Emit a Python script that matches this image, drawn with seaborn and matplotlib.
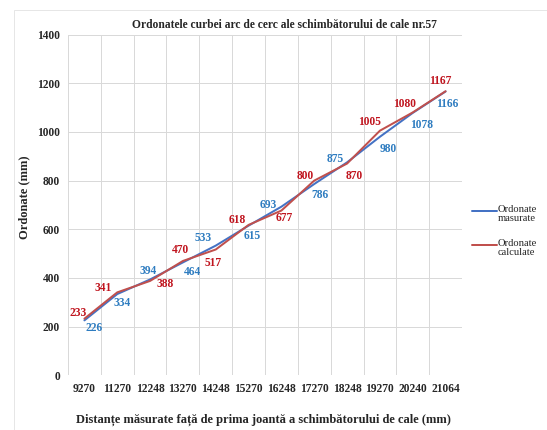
import numpy as np
import pandas as pd
import matplotlib
matplotlib.use("Agg")
import matplotlib.pyplot as plt
from matplotlib.lines import Line2D
from matplotlib.patches import Rectangle
import seaborn as sns

# data
distante = ["9270", "11270", "12248", "13270", "14248", "15270",
            "16248", "17270", "18248", "19270", "20240", "21064"]
ord_masurate = [226, 334, 394, 464, 533, 615, 693, 786, 875, 980, 1078, 1166]
ord_calculate = [233, 341, 388, 470, 517, 618, 677, 800, 870, 1005, 1080, 1167]
serii = ["Ordonate\nmasurate", "Ordonate\ncalculate"]
y_ticks = [0, 200, 400, 600, 800, 1000, 1200, 1400]

# label offsets in pixels (dx, dy with y pointing down)
off_m = [(10, 8), (5, 9), (-2, -8), (10, 10), (-13, -8), (4, 10),
         (-13, -2), (6, 11), (-12, -3), (8, 12), (9, 12), (2, 13)]
off_c = [(-6, -6), (-14, -4), (15, 3), (-2, -11), (-3, 13), (-11, -5),
         (3, 7), (-9, -5), (7, 12), (-10, -9), (-8, -8), (-5, -10)]

blue = "#4472C4"
red = "#C0504D"
blue_txt = "#2E7CC0"
red_txt = "#C0141E"
grid_c = "#D9D9D9"

sns.set_style("white")
plt.rcParams["font.family"] = ["Liberation Serif", "DejaVu Serif"]

df = pd.DataFrame({
    "dist": distante * 2,
    "ord": ord_masurate + ord_calculate,
    "serie": [serii[0]] * len(distante) + [serii[1]] * len(distante),
})

fig = plt.figure(figsize=(547 / 72, 430 / 72), dpi=72)
ax = fig.add_axes([68 / 547, 1 - 375.4 / 430, (462 - 68) / 547, (375.4 - 34.5) / 430])

sns.lineplot(data=df, x="dist", y="ord", hue="serie", palette=[blue, red],
             linewidth=2, sort=False, ax=ax, legend=False)

for i, v in enumerate(ord_masurate):
    ax.annotate(str(v), (i, v), xytext=(off_m[i][0], -off_m[i][1]),
                textcoords="offset points", ha="center", va="center",
                fontsize=11.5, fontweight="bold", color=blue_txt)
for i, v in enumerate(ord_calculate):
    ax.annotate(str(v), (i, v), xytext=(off_c[i][0], -off_c[i][1]),
                textcoords="offset points", ha="center", va="center",
                fontsize=11.5, fontweight="bold", color=red_txt)

ax.set_xlim(-0.5, len(distante) - 0.5)
ax.set_ylim(0, 1400)
ax.set_xticks(range(len(distante)))
ax.set_xticklabels(distante)
ax.set_xticks(np.arange(-0.5, len(distante), 1), minor=True)
ax.set_yticks(y_ticks)
ax.set_yticklabels([str(t) for t in y_ticks])
ax.tick_params(axis="both", which="both", length=0)
ax.tick_params(axis="x", pad=8)
ax.tick_params(axis="y", pad=8)
for lab in ax.get_xticklabels() + ax.get_yticklabels():
    lab.set_fontweight("bold")
    lab.set_fontsize(11.5)
ax.grid(False)
ax.grid(True, which="minor", axis="x", color=grid_c, linewidth=1)
ax.grid(True, which="major", axis="y", color=grid_c, linewidth=1)
ax.set_axisbelow(True)
for s in ax.spines.values():
    s.set_visible(False)
ax.set_xlabel("")
ax.set_ylabel("")

fig.text(284 / 547, 1 - 25.5 / 430, "Ordonatele curbei arc de cerc ale schimbătorului de cale nr.57",
         ha="center", va="center", fontsize=11.5, fontweight="bold")
fig.text(263 / 547, 1 - 420 / 430,
         "Distanțe măsurate față de prima joantă a schimbătorului de cale (mm)",
         ha="center", va="center", fontsize=12.5, fontweight="bold")
fig.text(24 / 547, 1 - 197 / 430, "Ordonate (mm)", rotation=90,
         ha="center", va="center", fontsize=12.5, fontweight="bold")

# legend
for k, (col, lab) in enumerate(zip([blue, red], serii)):
    yy = 1 - (210.7 + 34.5 * k) / 430
    fig.add_artist(Line2D([472 / 547, 497 / 547], [yy, yy], color=col,
                          linewidth=2, transform=fig.transFigure))
    fig.text(497.5 / 547, yy + 6 / 430, lab, ha="left", va="top",
             fontsize=10.5, linespacing=1.0)

# faint chart-area border
fig.add_artist(Rectangle((14 / 547, -0.1), 1.2, 1.1 - 10 / 430, fill=False,
                         edgecolor="#E6E6E6", linewidth=1, transform=fig.transFigure))

fig.savefig("out.png", dpi=72)
